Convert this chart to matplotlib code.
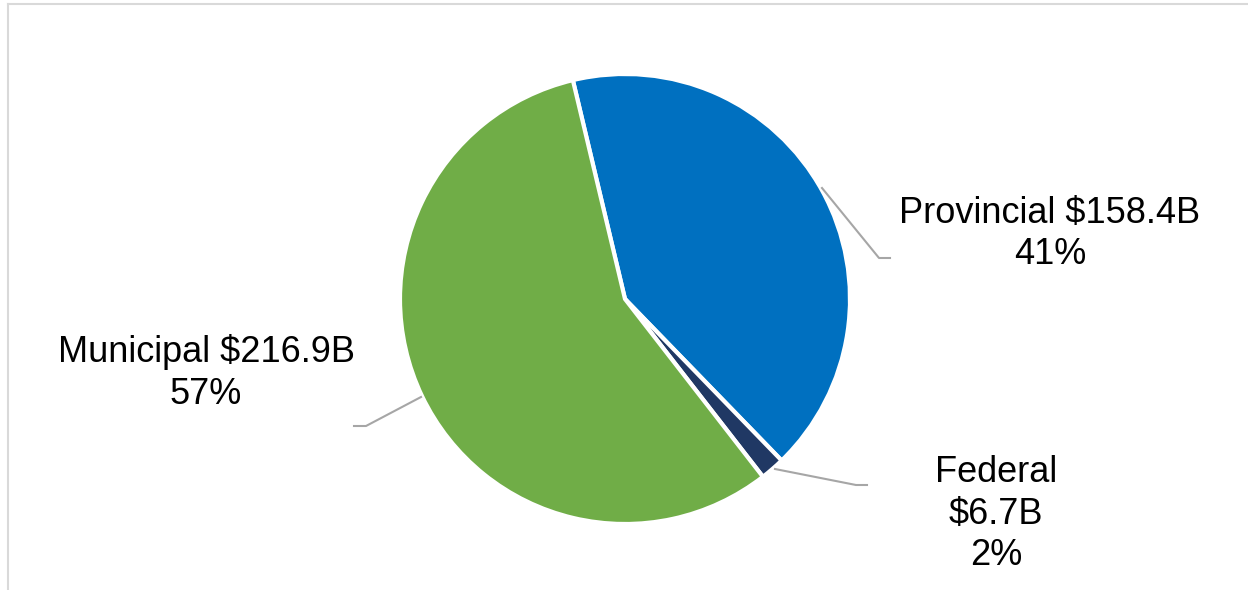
import matplotlib
matplotlib.use("Agg")
import matplotlib.pyplot as plt
from matplotlib.lines import Line2D

categories = ["Provincial", "Federal", "Municipal"]
values = [158.4, 6.7, 216.9]
value_labels = ["$158.4B", "$6.7B", "$216.9B"]
pct_labels = ["41%", "2%", "57%"]
colors = ["#0070C0", "#203864", "#70AD47"]

W, H = 1248, 590
fig = plt.figure(figsize=(W / 100, H / 100), dpi=100)
ax = fig.add_axes([0, 0, 1, 1])

def py(y):
    return H - y

cx, cy, r = 625, py(299), 225
ax.pie(values, colors=colors, startangle=103.4, counterclock=False,
       center=(cx, cy), radius=r, frame=True,
       wedgeprops=dict(edgecolor="white", linewidth=3))
ax.set_xlim(0, W)
ax.set_ylim(0, H)
ax.axis("off")

# border (left and top visible)
ax.add_line(Line2D([7.5, 7.5], [py(3.5), -5], color="#D9D9D9", lw=1.5, clip_on=False))
ax.add_line(Line2D([7.5, W + 5], [py(3.5), py(3.5)], color="#D9D9D9", lw=1.5, clip_on=False))

# leader lines
lc = "#A6A6A6"
ax.add_line(Line2D([822, 879, 890], [py(188), py(258), py(258)], color=lc, lw=1.5))
ax.add_line(Line2D([775, 856, 867], [py(469), py(485), py(485)], color=lc, lw=1.5))
ax.add_line(Line2D([421, 366, 354], [py(397), py(426), py(426)], color=lc, lw=1.5))

fs = 26
font = "Liberation Sans"
ax.text(1050, py(234), f"{categories[0]} {value_labels[0]}\n{pct_labels[0]}",
        ha="center", va="center", fontsize=fs, family=font, linespacing=1.25)
ax.text(996, py(514), f"{categories[1]}\n{value_labels[1]}\n{pct_labels[1]}",
        ha="center", va="center", fontsize=fs, family=font, linespacing=1.25)
ax.text(206, py(373), f"{categories[2]} {value_labels[2]}\n{pct_labels[2]}",
        ha="center", va="center", fontsize=fs, family=font, linespacing=1.25)

fig.savefig("out.png", dpi=100, facecolor="white")
